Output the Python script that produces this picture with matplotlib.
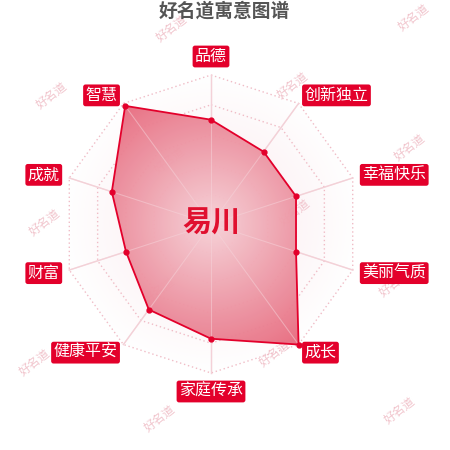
import matplotlib
matplotlib.use("Agg")
import matplotlib.pyplot as plt
import numpy as np
from matplotlib.patches import Polygon

plt.rcParams['font.family'] = ['Noto Sans CJK SC', 'DejaVu Sans']

# data
title = "好名道寓意图谱"
name = "易川"
labels = ["品德", "创新独立", "幸福快乐", "美丽气质", "成长",
          "家庭传承", "健康平安", "财富", "成就", "智慧"]
values = [70, 60, 60, 60, 100, 77, 71, 60, 70, 98]
vmax = 100
levels = [20, 40, 60, 80, 100]
mark_pos = [(172, 28), (414, 17), (52, 95), (293, 85), (410, 147), (45, 222),
            (295, 212), (395, 283), (35, 362), (275, 353), (160, 418), (400, 410),
            (170, 160), (160, 290)]

red = "#e3002b"
cx, cy, R = 211, 224, 149  # pixel centre / radius

fig = plt.figure(figsize=(4.5, 4.5), dpi=100)
ax = fig.add_axes([0, 0, 1, 1])
ax.set_xlim(-cx / R, (450 - cx) / R)
ax.set_ylim(-(450 - cy) / R, cy / R)
ax.axis('off')

n = len(labels)
ang = np.pi / 2 - np.arange(n) * 2 * np.pi / n
ca, sa = np.cos(ang), np.sin(ang)

# watermarks
for px, py in mark_pos:
    ax.text((px - cx) / R, (cy - py) / R, "好名道", color="#f1c4cc", fontsize=8.5,
            rotation=38, ha='center', va='center', zorder=0)

# background radial shading inside the outer ring
g = np.linspace(-1.05, 1.05, 400)
X, Y = np.meshgrid(g, g)
rr = np.sqrt(X**2 + Y**2)
bg = np.ones((400, 400, 4))
bg[..., 0] = 0.96
bg[..., 1] = 0.80
bg[..., 2] = 0.84
bg[..., 3] = np.clip(0.45 * (1 - rr), 0, 1)
outer = Polygon(np.c_[ca, sa], closed=True, fc='none', ec='none')
ax.add_patch(outer)
im0 = ax.imshow(bg, extent=(-1.05, 1.05, -1.05, 1.05), origin='lower', zorder=1)
im0.set_clip_path(outer)

# rings and spokes
for lv in levels:
    f = lv / vmax
    ax.plot(np.r_[ca, ca[0]] * f, np.r_[sa, sa[0]] * f, ls=(0, (1, 2)),
            color="#f0bcc6", lw=1, zorder=2)
for i in range(n):
    ax.plot([0, ca[i]], [0, sa[i]], color="#f2cdd4", lw=1, zorder=2)

# data polygon with radial gradient fill
v = np.array(values) / vmax
px_, py_ = v * ca, v * sa
poly = Polygon(np.c_[px_, py_], closed=True, fc='none', ec='none')
ax.add_patch(poly)
t = np.clip(rr, 0, 1)
c0 = np.array([246, 210, 216]) / 255
c1 = np.array([231, 104, 124]) / 255
fill = np.ones((400, 400, 4))
for k in range(3):
    fill[..., k] = c0[k] + (c1[k] - c0[k]) * t
fill[..., 3] = 0.95
im1 = ax.imshow(fill, extent=(-1.05, 1.05, -1.05, 1.05), origin='lower', zorder=3)
im1.set_clip_path(poly)
for i in range(n):
    ax.plot([0, ca[i]], [0, sa[i]], color="#f6d6dc", lw=0.8, alpha=0.5, zorder=4)
ax.plot(np.r_[px_, px_[0]], np.r_[py_, py_[0]], color=red, lw=1.3, zorder=5)
ax.plot(px_, py_, 'o', color=red, ms=3.5, zorder=6)

# axis name labels
gap = 1 + 10 / R
for i, lab in enumerate(labels):
    x, y = ca[i] * gap, sa[i] * gap
    ha = 'left' if ca[i] > 0.01 else ('right' if ca[i] < -0.01 else 'center')
    va = 'bottom' if sa[i] > 0.99 else ('top' if sa[i] < -0.99 else 'center')
    ax.text(x, y, lab, color='white', fontsize=11.5, ha=ha, va=va, zorder=7,
            bbox=dict(boxstyle='round,pad=0.15,rounding_size=0.15', fc=red, ec='none'))

ax.text(0, 0.01, name, color="#e0102f", fontsize=21, fontweight='bold',
        ha='center', va='center', zorder=8)
ax.text((224 - cx) / R, (cy - 11) / R, title, color="#555555", fontsize=13.5,
        fontweight='bold', ha='center', va='center', zorder=8)

fig.savefig("out.png", dpi=100)
